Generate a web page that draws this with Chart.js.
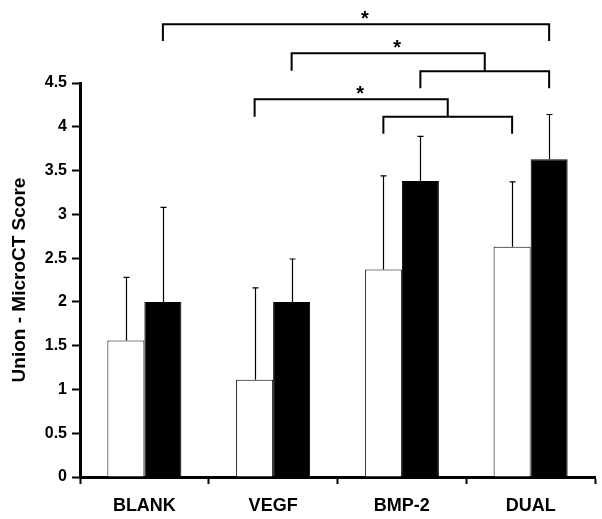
<!DOCTYPE html>
<html>
<head>
<meta charset="utf-8">
<script src="https://cdn.jsdelivr.net/npm/chart.js@4.4.1/dist/chart.umd.min.js"></script>
<style>
html,body{margin:0;padding:0;background:#fff;}
#wrap{width:602px;height:519px;}
</style>
</head>
<body>
<div id="wrap"><canvas id="c" width="602" height="519"></canvas></div>
<script>
const categories = ["BLANK", "VEGF", "BMP-2", "DUAL"];
const whiteValues = [1.56, 1.11, 2.37, 2.63];
const whiteErrors = [0.72, 1.05, 1.07, 0.74];
const blackValues = [2.0, 2.0, 3.38, 3.63];
const blackErrors = [1.08, 0.49, 0.51, 0.51];
const yTicks = [0, 0.5, 1, 1.5, 2, 2.5, 3, 3.5, 4, 4.5];
const yTitle = "Union - MicroCT Score";

// significance brackets: bars given as [datasetIndex, categoryIndex]
// sub-brackets (no star)
const subBrackets = [
  {id: "bd", from: [1, 2], to: [1, 3], level: 4.635, legEnd: 4.44},
  {id: "wd", from: [0, 2], to: [0, 3], level: 4.115, legEnd: 3.92}
];
// main brackets with star; "to" may refer to a sub-bracket's midpoint
const mainBrackets = [
  {from: [1, 0], to: [1, 3], level: 5.17, legEnd: 4.98, label: "*"},
  {from: [1, 1], toSub: "bd", level: 4.84, legEnd: 4.64, label: "*"},
  {from: [0, 1], toSub: "wd", level: 4.315, legEnd: 4.115, label: "*"}
];

const errorPlugin = {
  id: "errs",
  afterDatasetsDraw(chart) {
    const ctx = chart.ctx;
    const y = chart.scales.y;
    const sets = [[whiteValues, whiteErrors], [blackValues, blackErrors]];
    ctx.save();
    ctx.strokeStyle = "#000";
    ctx.lineWidth = 1.2;
    sets.forEach((s, di) => {
      const meta = chart.getDatasetMeta(di);
      meta.data.forEach((bar, i) => {
        const x = Math.round(bar.x) + 0.5;
        const yTop = y.getPixelForValue(s[0][i] + s[1][i]);
        const yBase = y.getPixelForValue(s[0][i]);
        ctx.beginPath();
        ctx.moveTo(x, yBase);
        ctx.lineTo(x, yTop);
        ctx.moveTo(x - 3, yTop);
        ctx.lineTo(x + 3, yTop);
        ctx.stroke();
      });
    });

    // brackets
    const barX = (ref) => chart.getDatasetMeta(ref[0]).data[ref[1]].x;
    const subMid = {};
    ctx.lineWidth = 2;
    subBrackets.forEach(b => {
      const x1 = barX(b.from), x2 = barX(b.to);
      const yl = y.getPixelForValue(b.level), ye = y.getPixelForValue(b.legEnd);
      ctx.beginPath();
      ctx.moveTo(x1, ye); ctx.lineTo(x1, yl); ctx.lineTo(x2, yl); ctx.lineTo(x2, ye);
      ctx.stroke();
      subMid[b.id] = {x: (x1 + x2) / 2, y: yl};
    });
    ctx.fillStyle = "#000";
    ctx.font = "bold 20px 'Liberation Sans', Arial, sans-serif";
    ctx.textAlign = "center";
    ctx.textBaseline = "alphabetic";
    mainBrackets.forEach(b => {
      const x1 = barX(b.from);
      const yl = y.getPixelForValue(b.level), ye = y.getPixelForValue(b.legEnd);
      let x2, ye2;
      if (b.toSub) { x2 = subMid[b.toSub].x; ye2 = subMid[b.toSub].y; }
      else { x2 = barX(b.to); ye2 = ye; }
      ctx.beginPath();
      ctx.moveTo(x1, ye); ctx.lineTo(x1, yl); ctx.lineTo(x2, yl); ctx.lineTo(x2, ye2);
      ctx.stroke();
      ctx.fillText(b.label, (x1 + x2) / 2 + 9, yl + 1);
    });
    ctx.restore();
  }
};

new Chart(document.getElementById("c"), {
  type: "bar",
  data: {
    labels: categories,
    datasets: [
      {data: whiteValues, backgroundColor: "#ffffff", borderColor: "#000000", borderWidth: 1,
       categoryPercentage: 0.575, barPercentage: 1.0},
      {data: blackValues, backgroundColor: "#000000", borderColor: "#000000", borderWidth: 1,
       categoryPercentage: 0.575, barPercentage: 1.0}
    ]
  },
  options: {
    responsive: false,
    animation: false,
    layout: {padding: {top: 83, right: 7, left: 0, bottom: 0}},
    plugins: {legend: {display: false}, tooltip: {enabled: false}},
    scales: {
      x: {
        grid: {display: true, drawOnChartArea: false, offset: true, tickLength: 7,
               tickColor: "#000", tickWidth: 2, color: "#000"},
        border: {display: true, color: "#000", width: 3},
        ticks: {color: "#000", padding: 11, maxRotation: 0,
                font: {family: "'Liberation Sans', Arial, sans-serif", size: 18, weight: "bold"}},
        afterFit(scale) { scale.height = 42; }
      },
      y: {
        min: 0, max: 4.5,
        afterBuildTicks(scale) { scale.ticks = yTicks.map(v => ({value: v})); },
        grid: {display: true, drawOnChartArea: false, tickLength: 8,
               tickColor: "#000", tickWidth: 2, color: "#000"},
        border: {display: true, color: "#000", width: 3},
        ticks: {color: "#000", padding: 5,
                callback: (v) => String(v),
                font: {family: "'Liberation Sans', Arial, sans-serif", size: 16, weight: "bold"}},
        title: {display: true, text: yTitle, color: "#000", padding: {top: 8, bottom: 0},
                font: {family: "'Liberation Sans', Arial, sans-serif", size: 19, weight: "bold"}},
        afterFit(scale) { scale.width = 80; }
      }
    }
  },
  plugins: [errorPlugin]
});
</script>
</body>
</html>
